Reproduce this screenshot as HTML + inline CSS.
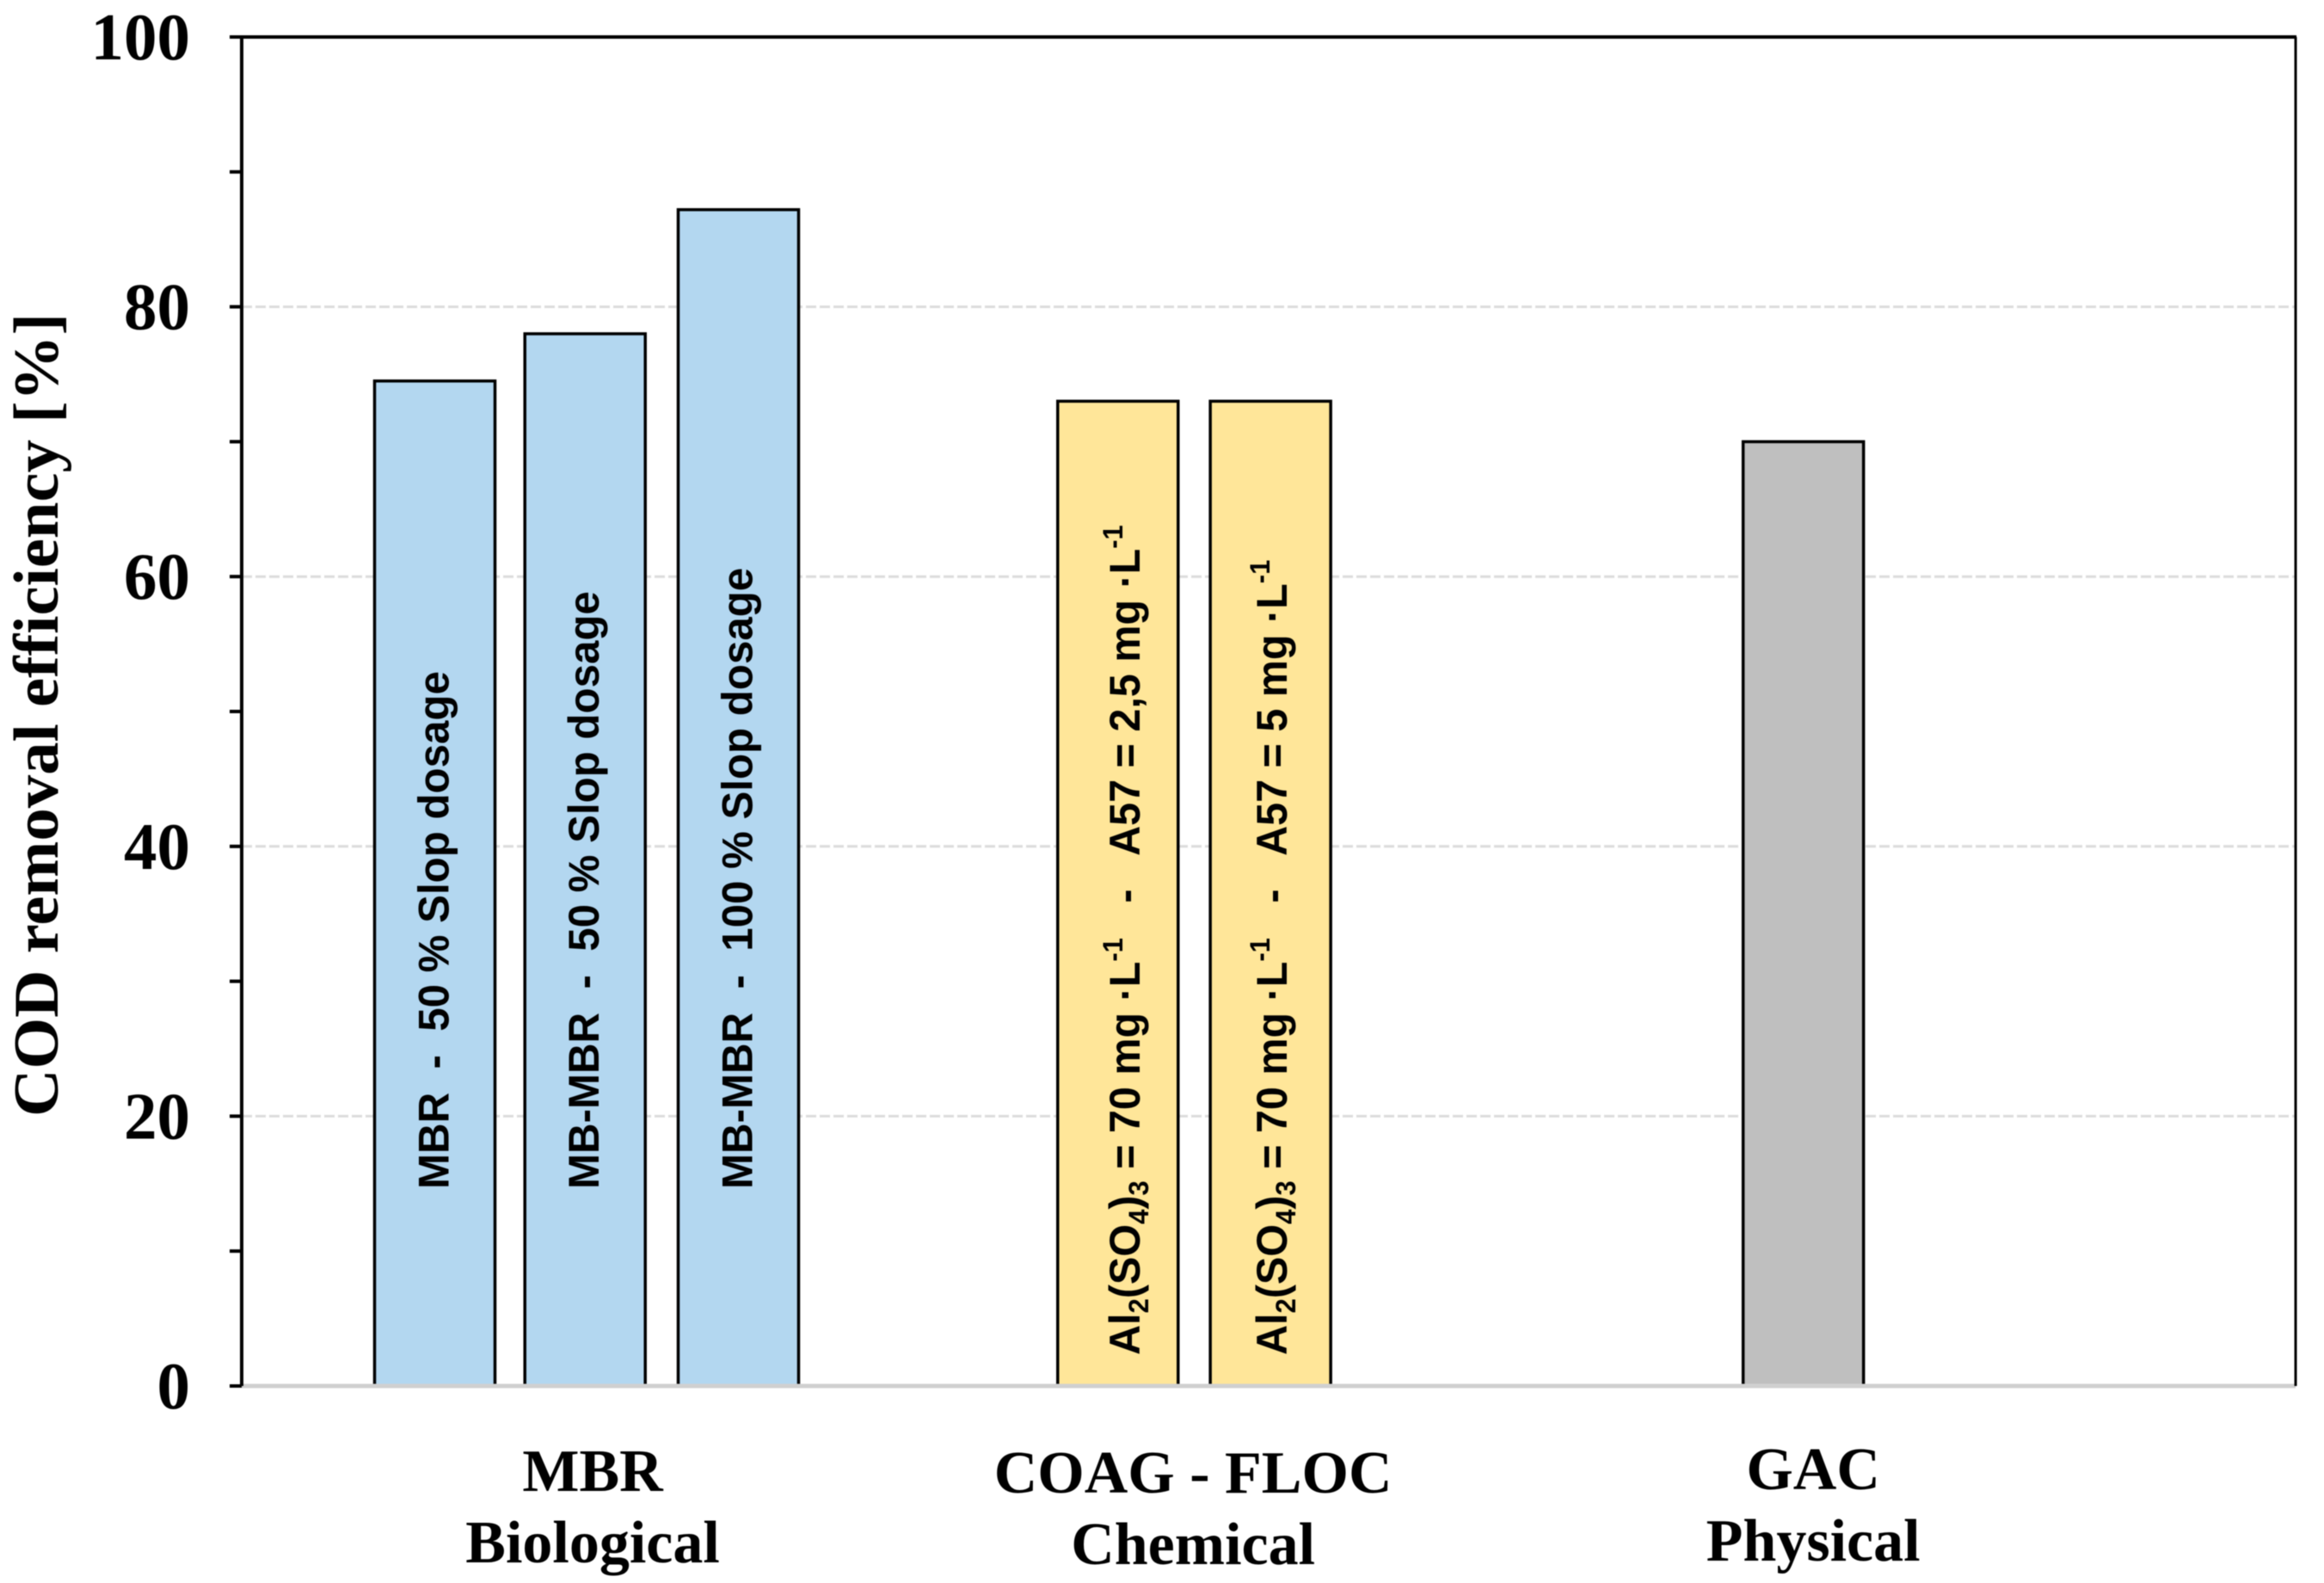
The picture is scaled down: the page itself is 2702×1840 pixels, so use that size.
<!DOCTYPE html>
<html lang="en">
<head>
<meta charset="utf-8">
<title>COD removal efficiency</title>
<style>
html,body{margin:0;padding:0;background:#fff;width:2702px;height:1840px;overflow:hidden}
svg{display:block;filter:blur(0.6px)}
.serif{font-family:"Liberation Serif",serif;font-weight:bold;fill:#000}
.sans{font-family:"Liberation Sans",sans-serif;font-weight:bold;fill:#000;white-space:pre}
</style>
</head>
<body>
<svg id="chart" xmlns="http://www.w3.org/2000/svg" width="2702" height="1840" viewBox="0 0 2702 1840"></svg>
<script>
const barValues = [74.5, 78, 87.2, 73, 73, 70];
const barOrder = [0, 0.99, 2, 4.5, 5.505, 9.015];
const barGroups = ["biological", "biological", "biological", "chemical", "chemical", "physical"];
const barLabels = [
  "MBR  -  50 % Slop dosage",
  "MB-MBR  -  50 % Slop dosage",
  "MB-MBR  -  100 % Slop dosage",
  "Al_2(SO_4)_3 = 70 mg ·L^-1   -   A57 = 2,5 mg ·L^-1",
  "Al_2(SO_4)_3 = 70 mg ·L^-1   -   A57 = 5 mg ·L^-1",
  ""
];
const majorTicks = [0, 20, 40, 60, 80, 100];
const minorTicks = [10, 30, 50, 70, 90];
const gridTicks = [20, 40, 60, 80];
const categoryNames = ["MBR", "COAG - FLOC", "GAC"];
const categoryTypes = ["Biological", "Chemical", "Physical"];
const categoryOrder = [1.04, 4.995, 9.08];

const svg = document.getElementById('chart');
const NS = 'http://www.w3.org/2000/svg';
const groupColors = {biological: '#b3d7f0', chemical: '#ffe699', physical: '#bfbfbf'};
const groupLabelStyle = {
  biological: {lift: 229, stretch: 0.985, offset: 16},
  chemical: {lift: 36, stretch: 0.97, offset: 22},
  physical: {lift: 40, stretch: 1, offset: 19}
};

const plotLeft = 281, plotRight = 2669, plotTop = 43, plotBottom = 1611;
function yScale(v) { return plotBottom - (v / 100) * (plotBottom - plotTop); }
function xScale(slot) { return 505.5 + slot * 176.5; }
const barWidth = 140;

function make(tag, attrs, parent) {
  const el = document.createElementNS(NS, tag);
  for (const k in attrs) el.setAttribute(k, attrs[k]);
  (parent || svg).appendChild(el);
  return el;
}

// gridlines
gridTicks.forEach(function (t) {
  const el = make('line', {x1: plotLeft, x2: plotRight, y1: yScale(t), y2: yScale(t), stroke: '#dcdcdc', 'stroke-width': 3, 'stroke-dasharray': '12 4'});
  
  
});

// bars
barValues.forEach(function (v, i) {
  const cx = xScale(barOrder[i]);
  const el = make('rect', {x: cx - barWidth / 2, y: yScale(v), width: barWidth, height: plotBottom - yScale(v), fill: groupColors[barGroups[i]], stroke: '#000', 'stroke-width': 3.5});
  
  
});

// baseline and frame
const baseline = make('line', {x1: plotLeft, x2: plotRight, y1: plotBottom, y2: plotBottom, stroke: '#d0d0d0', 'stroke-width': 5});


const leftAxis = make('line', {x1: plotLeft, x2: plotLeft, y1: plotTop, y2: plotBottom, stroke: '#000', 'stroke-width': 4});


const topLine = make('line', {x1: 267, x2: plotRight + 1, y1: plotTop, y2: plotTop, stroke: '#000', 'stroke-width': 4});


const rightLine = make('line', {x1: plotRight, x2: plotRight, y1: plotTop, y2: plotBottom, stroke: '#000', 'stroke-width': 3});



// ticks
majorTicks.concat(minorTicks).forEach(function (t) {
  const el = make('line', {x1: 267, x2: plotLeft, y1: yScale(t), y2: yScale(t), stroke: '#000', 'stroke-width': 4});
  
  
});
majorTicks.forEach(function (t) {
  const el = make('text', {x: 221, y: yScale(t) + 26, 'text-anchor': 'end', 'font-size': 77, class: 'serif'});
  el.textContent = String(t);
  
  
});

// y-axis title
const yTitle = make('text', {x: 0, y: 0, transform: 'translate(67 1298) rotate(-90)', 'font-size': 74, class: 'serif', textLength: 934, lengthAdjust: 'spacingAndGlyphs'});
yTitle.textContent = 'COD removal efficiency [%]';



// bar labels: _x is subscript, ^x is superscript
function addLabelRuns(textEl, label) {
  const parts = label.split(/(_\d|\^-1)/);
  let shift = 0;
  parts.forEach(function (p) {
    if (!p) return;
    const span = document.createElementNS(NS, 'tspan');
    let target = 0;
    if (p[0] === '_') { target = 10; p = p.slice(1); span.setAttribute('font-size', '32'); }
    else if (p[0] === '^') { target = -20; p = p.slice(1); span.setAttribute('font-size', '32'); }
    span.setAttribute('dy', String(target - shift));
    shift = target;
    span.textContent = p;
    textEl.appendChild(span);
  });
}
barLabels.forEach(function (label, i) {
  if (!label) return;
  const cx = xScale(barOrder[i]);
  const st = groupLabelStyle[barGroups[i]];
  const nudge = i === 3 ? 3 : (i === 4 ? -3 : 0);
  const el = make('text', {x: 0, y: 0, transform: 'translate(' + (cx + st.offset + nudge) + ' ' + (plotBottom - st.lift) + ') rotate(-90) scale(' + st.stretch + ' 1)', 'font-size': 50, class: 'sans'});
  addLabelRuns(el, label);
  
  
});

// category labels
categoryNames.forEach(function (name, i) {
  const cx = xScale(categoryOrder[i]);
  const nudge = i === 0 ? 0 : (i === 1 ? 2 : -2);
  const a = make('text', {x: cx, y: 1733 + nudge, 'text-anchor': 'middle', 'font-size': 70, class: 'serif'});
  a.textContent = name;
  
  
  const b = make('text', {x: cx, y: 1816 + nudge, 'text-anchor': 'middle', 'font-size': 70, class: 'serif'});
  b.textContent = categoryTypes[i];
  
  
});
</script>
</body>
</html>
